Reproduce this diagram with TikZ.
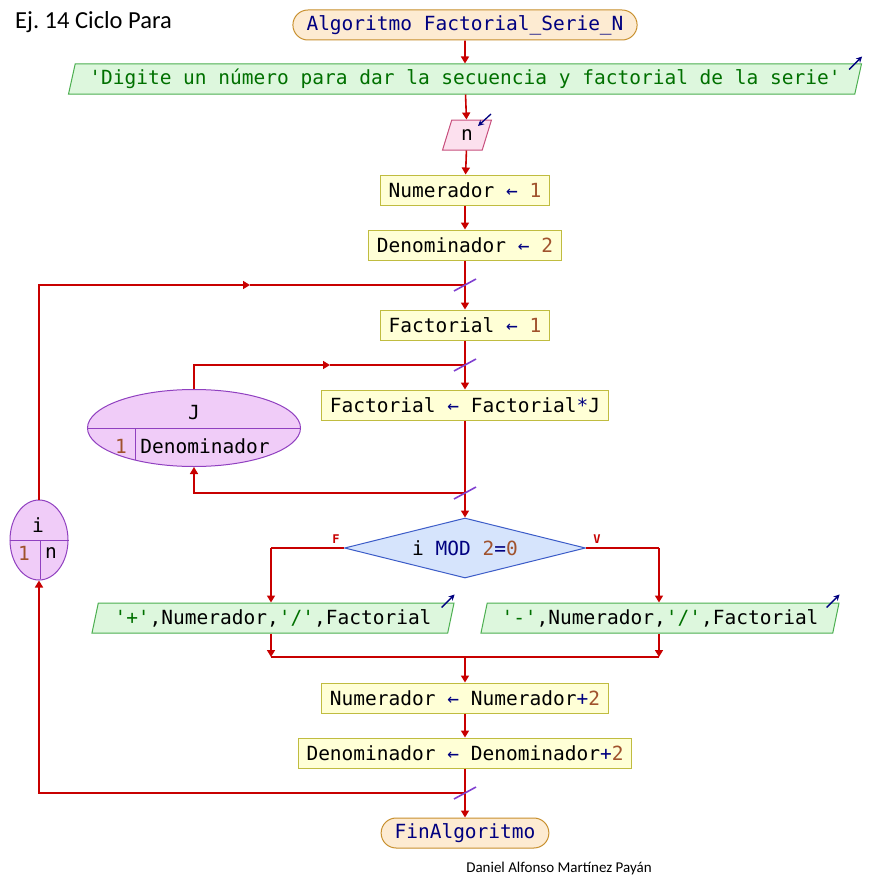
\documentclass[tikz,border=0pt]{standalone}
\usepackage{fontspec}
\setmainfont{Carlito}
\setmonofont{DejaVu Sans Mono}
\usetikzlibrary{shapes.geometric,shapes.misc,arrows.meta,calc}
\definecolor{lnred}{HTML}{C80000}
\definecolor{kwnavy}{HTML}{000080}
\definecolor{numbrown}{HTML}{A0522D}
\definecolor{strgreen}{HTML}{007000}
\definecolor{termfill}{HTML}{FDEBD2}
\definecolor{termdraw}{HTML}{C8902E}
\definecolor{outfill}{HTML}{DDF7DD}
\definecolor{outdraw}{HTML}{4CAF50}
\definecolor{infill}{HTML}{FCE0EE}
\definecolor{indraw}{HTML}{C8507E}
\definecolor{procfill}{HTML}{FFFFD6}
\definecolor{procdraw}{HTML}{C0BC40}
\definecolor{decfill}{HTML}{D6E4FC}
\definecolor{decdraw}{HTML}{3C5CC8}
\definecolor{loopfill}{HTML}{F0CCF8}
\definecolor{loopdraw}{HTML}{9040C0}
\definecolor{slashc}{HTML}{8040D0}
\newcommand{\monotext}{\ttfamily\fontsize{19.5}{22}\selectfont}
\newcommand{\myarr}{\textcolor{kwnavy}{←}}
\newcommand{\mynum}[1]{\textcolor{numbrown}{#1}}
\newcommand{\mystr}[1]{\textcolor{strgreen}{#1}}
\newcommand{\sq}{\textquotesingle}
\begin{document}
\begin{tikzpicture}[x=1pt,y=-1pt,
  base/.style={font=\monotext, inner ysep=0pt, minimum height=30pt, line width=1pt},
  term/.style={base, rounded rectangle, draw=termdraw, fill=termfill, inner xsep=10pt, text=kwnavy},
  proc/.style={base, rectangle, draw=procdraw, fill=procfill, inner xsep=8pt},
  io/.style={base, trapezium, trapezium left angle=72, trapezium right angle=108, trapezium stretches=true, draw=outdraw, fill=outfill, inner xsep=0pt},
  inp/.style={io, draw=indraw, fill=infill},
  decis/.style={diamond, aspect=4.0167, draw=decdraw, fill=decfill, minimum width=241pt, minimum height=60pt, inner sep=0pt, font=\monotext, line width=1pt},
  loopv/.style={ellipse, draw=loopdraw, fill=loopfill, inner sep=0pt, line width=1pt},
  flow/.style={draw=lnred, line width=1.6pt, -{Triangle[length=7pt,width=8pt]}},
  wire/.style={draw=lnred, line width=1.6pt},
  slashst/.style={draw=slashc, line width=1.6pt},
  outic/.style={draw=kwnavy, line width=1.3pt, -{Stealth[length=6pt,width=6pt]}},
  lbl/.style={font=\ttfamily\bfseries\fontsize{12}{14}\selectfont, text=lnred}
]
\useasboundingbox (0,0) rectangle (872,883);
\fill[white] (0,0) rectangle (872,883);

% title and author
\node[font=\fontsize{24.5}{28}\selectfont, inner sep=0pt, anchor=west] (title) at (15,22) {Ej.\ 14 Ciclo Para};
\node[font=\fontsize{15}{18}\selectfont] (author) at (559,868) {Daniel Alfonso Martínez Payán};

% junction coordinates
\coordinate (s1) at (465,285);
\coordinate (s2) at (465,365);
\coordinate (s3) at (465,493);
\coordinate (s4) at (465,793);
\coordinate (m1) at (250,285);
\coordinate (m2) at (330,365);
\coordinate (bl) at (271,548);
\coordinate (br) at (659,548);
\coordinate (jl) at (271,657);
\coordinate (jr) at (659,657);
\coordinate (jm) at (465,657);

% nodes
\node[term] (start) at (465,25) {Algoritmo Factorial\_Serie\_N};
\node[io, minimum width=800pt] (out1) at (465,79) {\mystr{\sq Digite un número para dar la secuencia y factorial de la serie\sq}};
\node[inp, minimum width=49pt] (inn) at (467,135) {n};
\node[proc] (p1) at (465,190) {Numerador \myarr{} \mynum{1}};
\node[proc] (p2) at (465,245) {Denominador \myarr{} \mynum{2}};
\node[proc] (p3) at (465,325) {Factorial \myarr{} \mynum{1}};
\node[proc] (p4) at (465,405) {Factorial \myarr{} Factorial\textcolor{kwnavy}{*}J};
\node[decis] (dec) at (465,548) {i \textcolor{kwnavy}{MOD} \mynum{2}\textcolor{kwnavy}{=}\mynum{0}};
\node[lbl] (lblF) at (336,539) {F};
\node[lbl] (lblV) at (597,539) {V};
\node[io, minimum width=363pt] (o2) at (273,618) {\mystr{\sq+\sq},Numerador,\mystr{\sq/\sq},Factorial};
\node[io, minimum width=359pt] (o3) at (660,618) {\mystr{\sq-\sq},Numerador,\mystr{\sq/\sq},Factorial};
\node[proc] (p5) at (465,698) {Numerador \myarr{} Numerador\textcolor{kwnavy}{+}\mynum{2}};
\node[proc] (p6) at (465,753) {Denominador \myarr{} Denominador\textcolor{kwnavy}{+}\mynum{2}};
\node[term] (fin) at (465,833) {FinAlgoritmo};

% loop nodes
\node[loopv, minimum width=213pt, minimum height=77pt] (jv) at (194,428) {};
\draw[draw=loopdraw, line width=1pt] (jv.west) -- (jv.east);
\draw[draw=loopdraw, line width=1pt] ($(jv.center)+(-59,0)$) -- ++(0,32);
\node[font=\monotext] (jvar) at (194,413) {J};
\node[font=\monotext, text=numbrown] (jfrom) at (121,446) {1};
\node[font=\monotext] (jto) at (205,446) {Denominador};

\node[loopv, minimum width=58pt, minimum height=80pt] (iv) at (39,540) {};
\draw[draw=loopdraw, line width=1pt] (iv.west) -- (iv.east);
\draw[draw=loopdraw, line width=1pt] ($(iv.center)+(1,0)$) -- ++(0,39);
\node[font=\monotext] (ivar) at (38,525) {i};
\node[font=\monotext, text=numbrown] (ifrom) at (24,553) {1};
\node[font=\monotext] (ito) at (51,553) {n};

% output / input icons
\draw[outic] ($(out1.top right corner)+(-13,6)$) -- ++(13,-13);
\draw[outic] ($(o2.top right corner)+(-13,5)$) -- ++(13,-13);
\draw[outic] ($(o3.top right corner)+(-13,5)$) -- ++(13,-13);
\draw[outic] (491,114) -- (478,126);

% connectors
\draw[flow] (start) -- (out1);
\draw[flow] (out1) -- (inn);
\draw[flow] (inn) -- (p1);
\draw[flow] (p1) -- (p2);
\draw[wire] (p2) -- (s1);
\draw[flow] (s1) -- (p3);
\draw[wire] (p3) -- (s2);
\draw[flow] (s2) -- (p4);
\draw[wire] (p4) -- (s3);
\draw[flow] (s3) -- (dec.north);
\draw[wire] (dec.west) -- (bl);
\draw[flow] (bl) -- (bl |- o2.north);
\draw[wire] (dec.east) -- (br);
\draw[flow] (br) -- (br |- o3.north);
\draw[flow] (bl |- o2.south) -- (jl);
\draw[flow] (br |- o3.south) -- (jr);
\draw[wire] (jl) -- (jr);
\draw[flow] (jm) -- (p5);
\draw[flow] (p5) -- (p6);
\draw[wire] (p6) -- (s4);
\draw[flow] (s4) -- (fin);
% outer loop
\draw[flow] (s4) -| (iv.south);
\draw[flow] (iv.north) |- (m1);
\draw[wire] (m1) -- (s1);
% inner loop
\draw[flow] (s3) -| (jv.south);
\draw[flow] (jv.north) |- (m2);
\draw[wire] (m2) -- (s2);

% slashes
\foreach \s in {s1,s2,s3,s4}
  \draw[slashst] ($(\s)+(-11,6)$) -- ($(\s)+(11,-6)$);
\end{tikzpicture}
\end{document}
